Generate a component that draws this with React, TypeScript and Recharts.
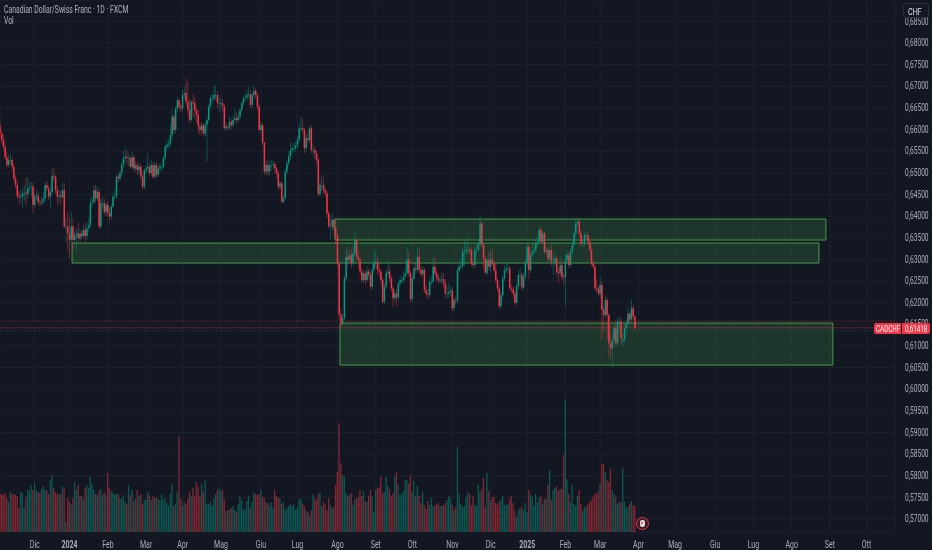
import React from 'react';
import {
  ComposedChart,
  Bar,
  XAxis,
  YAxis,
  CartesianGrid,
  ReferenceArea,
  ReferenceLine,
} from 'recharts';

// prezzi in 1/10000 di CHF
const opens = [
  6610,6591,6576,6560,6536,6518,6530,6530,6514,6487,
  6472,6447,6444,6445,6453,6454,6451,6464,6467,6468,
  6426,6445,6447,6433,6431,6433,6441,6472,6464,6445,
  6456,6493,6491,6460,6445,6447,6444,6460,6376,6376,
  6360,6345,6376,6345,6356,6360,6349,6360,6354,6368,
  6354,6372,6379,6430,6433,6460,6441,6456,6376,6430,
  6430,6410,6426,6407,6399,6422,6445,6445,6491,6487,
  6499,6518,6534,6537,6534,6534,6514,6536,6510,6518,
  6506,6514,6491,6468,6506,6510,6514,6499,6518,6491,
  6518,6495,6510,6514,6514,6534,6560,6565,6568,6587,
  6630,6599,6649,6668,6653,6649,6680,6684,6664,6645,
  6622,6664,6661,6645,6634,6607,6599,6610,6591,6610,
  6622,6653,6672,6672,6680,6680,6661,6661,6661,6654,
  6603,6607,6605,6618,6610,6622,6626,6622,6630,6645,
  6661,6672,6674,6680,6682,6657,6680,6690,6680,6653,
  6599,6610,6570,6503,6518,6503,6518,6518,6520,6510,
  6499,6468,6476,6433,6441,6503,6522,6539,6553,6557,
  6557,6564,6576,6603,6603,6599,6557,6580,6576,6603,
  6553,6553,6545,6531,6451,6472,6472,6460,6453,6406,
  6376,6376,6391,6372,6356,6291,6172,6152,6164,6256,
  6306,6299,6310,6291,6314,6345,6306,6299,6272,6252,
  6268,6252,6272,6264,6237,6276,6295,6295,6276,6272,
  6252,6202,6237,6268,6272,6256,6233,6210,6221,6212,
  6245,6252,6252,6260,6268,6299,6268,6208,6256,6279,
  6276,6306,6276,6266,6276,6229,6221,6218,6249,6249,
  6283,6268,6256,6252,6252,6254,6245,6221,6221,6225,
  6228,6187,6206,6205,6275,6283,6285,6318,6318,6322,
  6323,6322,6291,6287,6322,6322,6337,6383,6333,6302,
  6269,6298,6283,6300,6291,6275,6252,6233,6192,6217,
  6256,6275,6279,6279,6233,6231,6221,6200,6237,6264,
  6264,6235,6260,6291,6329,6275,6310,6318,6322,6337,
  6341,6368,6341,6360,6318,6322,6302,6322,6295,6295,
  6302,6271,6268,6287,6260,6258,6298,6310,6287,6318,
  6333,6360,6383,6387,6360,6337,6337,6356,6356,6341,
  6322,6291,6283,6233,6231,6221,6241,6183,6171,6206,
  6171,6106,6094,6114,6141,6106,6156,6156,6110,6114,
  6141,6152,6175,6161,6187,6168,
];
const highs = [
  6625,6600,6590,6572,6548,6542,6545,6538,6522,6495,
  6480,6458,6460,6465,6472,6488,6490,6480,6480,6478,
  6452,6460,6455,6440,6445,6455,6478,6482,6472,6470,
  6510,6512,6495,6470,6462,6458,6478,6475,6395,6410,
  6395,6410,6395,6365,6372,6385,6372,6368,6380,6385,
  6385,6395,6440,6445,6470,6472,6470,6462,6440,6445,
  6440,6432,6435,6420,6428,6455,6462,6495,6498,6505,
  6525,6550,6560,6552,6545,6540,6548,6542,6526,6525,
  6522,6520,6498,6510,6518,6545,6522,6530,6524,6525,
  6525,6518,6522,6520,6540,6565,6575,6578,6612,6645,
  6635,6652,6675,6672,6660,6692,6700,6718,6712,6672,
  6668,6682,6675,6650,6645,6618,6618,6615,6618,6630,
  6660,6680,6682,6700,6702,6688,6680,6672,6670,6660,
  6615,6612,6630,6625,6632,6648,6640,6640,6650,6665,
  6678,6685,6690,6698,6692,6685,6703,6695,6685,6658,
  6618,6615,6572,6528,6532,6528,6530,6528,6526,6515,
  6505,6482,6480,6448,6510,6530,6550,6570,6565,6570,
  6572,6585,6615,6630,6625,6605,6590,6598,6608,6610,
  6565,6562,6552,6535,6485,6495,6490,6468,6460,6412,
  6395,6408,6395,6375,6360,6295,6185,6175,6262,6325,
  6328,6320,6325,6330,6368,6350,6322,6305,6280,6275,
  6275,6285,6280,6270,6290,6322,6318,6305,6288,6278,
  6258,6245,6275,6298,6285,6262,6240,6230,6232,6250,
  6262,6262,6272,6285,6330,6318,6275,6262,6292,6295,
  6330,6325,6285,6285,6280,6240,6232,6255,6262,6305,
  6305,6278,6265,6262,6270,6268,6255,6240,6245,6238,
  6235,6212,6212,6282,6295,6305,6330,6345,6340,6352,
  6330,6328,6298,6330,6335,6345,6402,6388,6338,6308,
  6305,6318,6322,6325,6296,6290,6258,6240,6225,6262,
  6285,6295,6290,6285,6242,6238,6228,6245,6275,6280,
  6270,6270,6300,6340,6335,6320,6335,6335,6348,6355,
  6378,6375,6365,6365,6332,6328,6330,6335,6308,6320,
  6308,6282,6305,6298,6268,6312,6320,6318,6325,6345,
  6368,6392,6395,6392,6368,6345,6362,6365,6362,6348,
  6330,6298,6288,6255,6238,6258,6250,6190,6215,6212,
  6176,6130,6125,6150,6160,6165,6168,6165,6128,6150,
  6160,6190,6180,6207,6195,6172,
];
const lows = [
  6585,6568,6552,6530,6510,6512,6518,6505,6480,6465,
  6440,6425,6432,6420,6435,6425,6440,6455,6445,6405,
  6420,6438,6425,6422,6425,6428,6435,6458,6438,6418,
  6450,6480,6452,6425,6430,6425,6440,6372,6340,6320,
  6302,6335,6322,6340,6322,6340,6342,6345,6350,6340,
  6345,6365,6372,6420,6428,6430,6435,6370,6370,6418,
  6402,6400,6398,6385,6392,6418,6438,6440,6478,6480,
  6492,6510,6525,6520,6515,6510,6508,6505,6500,6495,
  6496,6485,6462,6462,6498,6500,6490,6492,6485,6486,
  6488,6490,6502,6505,6508,6528,6552,6555,6560,6580,
  6590,6592,6640,6645,6640,6640,6670,6655,6635,6615,
  6618,6630,6625,6615,6590,6585,6590,6582,6585,6526,
  6618,6648,6662,6665,6668,6650,6640,6645,6640,6600,
  6595,6598,6600,6600,6605,6618,6612,6616,6625,6640,
  6655,6665,6668,6672,6650,6650,6672,6672,6645,6595,
  6590,6565,6495,6495,6492,6495,6505,6508,6498,6490,
  6460,6460,6430,6430,6438,6498,6515,6530,6545,6548,
  6550,6558,6570,6595,6590,6545,6550,6565,6570,6545,
  6540,6530,6520,6445,6445,6458,6452,6445,6395,6372,
  6345,6365,6350,6335,6285,6160,6143,6148,6160,6250,
  6285,6292,6280,6285,6308,6298,6280,6262,6245,6245,
  6240,6248,6255,6230,6230,6270,6285,6265,6260,6240,
  6198,6195,6232,6260,6245,6225,6190,6205,6190,6205,
  6238,6245,6245,6255,6262,6260,6200,6202,6250,6268,
  6270,6268,6258,6260,6222,6212,6208,6212,6240,6244,
  6262,6248,6243,6245,6244,6235,6212,6210,6212,6215,
  6180,6180,6195,6198,6268,6275,6278,6285,6310,6312,
  6312,6285,6280,6280,6312,6318,6330,6328,6280,6265,
  6262,6275,6270,6285,6268,6245,6225,6185,6186,6210,
  6250,6268,6268,6228,6222,6212,6192,6196,6230,6240,
  6228,6230,6252,6285,6255,6268,6305,6310,6315,6330,
  6335,6335,6335,6312,6310,6295,6295,6285,6265,6285,
  6262,6245,6260,6252,6240,6192,6290,6280,6282,6312,
  6328,6352,6375,6352,6330,6328,6330,6345,6332,6316,
  6285,6278,6228,6222,6215,6210,6115,6130,6165,6115,
  6075,6070,6052,6105,6098,6100,6130,6105,6100,6108,
  6125,6140,6150,6155,6160,6135,
];
const closes = [
  6591,6576,6560,6536,6518,6530,6530,6514,6487,6472,
  6447,6444,6445,6453,6454,6451,6464,6467,6468,6426,
  6445,6447,6433,6431,6433,6441,6472,6464,6445,6456,
  6493,6491,6460,6445,6447,6444,6460,6376,6376,6360,
  6345,6376,6345,6356,6360,6349,6360,6354,6368,6354,
  6372,6379,6430,6433,6460,6441,6456,6376,6430,6430,
  6410,6426,6407,6399,6422,6445,6445,6491,6487,6499,
  6518,6534,6537,6534,6534,6514,6536,6510,6518,6506,
  6514,6491,6468,6506,6510,6514,6499,6518,6491,6518,
  6495,6510,6514,6514,6534,6560,6565,6568,6587,6630,
  6599,6649,6668,6653,6649,6680,6684,6664,6645,6622,
  6664,6661,6645,6634,6607,6599,6610,6591,6610,6622,
  6653,6672,6672,6680,6680,6661,6661,6661,6654,6603,
  6607,6605,6618,6610,6622,6626,6622,6630,6645,6661,
  6672,6674,6680,6682,6657,6680,6690,6680,6653,6599,
  6610,6570,6503,6518,6503,6518,6518,6520,6510,6499,
  6468,6476,6433,6441,6503,6522,6539,6553,6557,6557,
  6564,6576,6603,6603,6599,6557,6580,6576,6603,6553,
  6553,6545,6531,6451,6472,6472,6460,6453,6406,6376,
  6376,6391,6372,6356,6291,6172,6152,6164,6256,6306,
  6299,6310,6291,6314,6345,6306,6299,6272,6252,6268,
  6252,6272,6264,6237,6276,6295,6295,6276,6272,6252,
  6202,6237,6268,6272,6256,6233,6210,6221,6212,6245,
  6252,6252,6260,6268,6299,6268,6208,6256,6279,6276,
  6306,6276,6266,6276,6229,6221,6218,6249,6249,6283,
  6268,6256,6252,6252,6254,6245,6221,6221,6225,6228,
  6187,6206,6205,6275,6283,6285,6318,6318,6322,6323,
  6322,6291,6287,6322,6322,6337,6383,6333,6302,6269,
  6298,6283,6300,6291,6275,6252,6233,6192,6217,6256,
  6275,6279,6279,6233,6231,6221,6200,6237,6264,6264,
  6235,6260,6291,6329,6275,6310,6318,6322,6337,6341,
  6368,6341,6360,6318,6322,6302,6322,6295,6295,6302,
  6271,6268,6287,6260,6258,6298,6310,6287,6318,6333,
  6360,6383,6387,6360,6337,6337,6356,6356,6341,6322,
  6291,6283,6233,6231,6221,6241,6183,6171,6206,6171,
  6106,6094,6114,6141,6106,6156,6156,6117,6114,6141,
  6152,6175,6161,6187,6168,6141,
];
const volumes = [
  38,38,37,39,34,30,40,38,38,37,
  36,24,40,39,24,35,42,42,47,42,
  49,42,40,39,43,46,42,42,38,52,
  57,44,40,38,38,38,46,44,10,34,
  30,28,34,50,42,47,36,36,33,44,
  47,44,56,48,42,38,37,41,43,37,
  40,37,59,44,41,39,38,38,38,34,
  33,37,30,28,47,37,42,31,34,42,
  36,38,28,32,32,40,37,32,36,34,
  35,33,32,38,32,34,29,26,38,48,
  26,28,40,96,33,26,30,28,33,40,
  36,44,36,50,45,36,48,40,52,28,
  28,30,26,33,38,42,44,41,42,33,
  21,22,22,24,26,22,20,28,36,32,
  22,23,31,36,24,30,40,38,37,38,
  42,35,34,30,29,26,30,24,42,36,
  34,34,28,30,22,24,26,28,26,28,
  22,24,32,34,28,26,22,20,16,22,
  38,34,32,38,40,26,30,28,22,34,
  27,24,25,47,60,109,69,57,56,39,
  36,37,39,27,32,34,34,42,36,41,
  31,30,36,42,36,21,42,44,45,56,
  39,40,55,46,43,36,39,56,60,47,
  37,38,41,52,52,49,57,40,51,36,
  46,36,29,40,27,23,31,27,34,26,
  26,28,29,26,26,27,29,32,36,34,
  27,22,25,85,38,28,25,26,35,40,
  38,27,36,27,26,47,40,43,54,25,
  59,41,32,35,35,29,27,30,32,36,
  27,27,28,33,36,29,21,15,22,24,
  25,22,29,20,42,38,35,26,38,30,
  35,36,28,33,33,47,62,32,42,44,
  46,41,43,43,77,133,53,38,30,47,
  28,26,36,42,28,21,25,25,28,30,
  32,35,38,38,41,48,68,68,60,52,
  50,63,42,38,35,28,30,30,64,30,
  25,25,28,31,27,26,
];

const timeTicks = [20,40,62,84,105,127,150,171,194,216,237,260,282,303,325,345,367,388,411,433,455,477,498];
const timeLabels = ['Dic','2024','Feb','Mar','Apr','Mag','Giu','Lug','Ago','Set','Ott','Nov','Dic','2025','Feb','Mar','Apr','Mag','Giu','Lug','Ago','Set','Ott'];
const priceTicks = [0.57,0.575,0.58,0.585,0.59,0.595,0.6,0.605,0.61,0.615,0.62,0.625,0.63,0.635,0.64,0.645,0.65,0.655,0.66,0.665,0.67,0.675,0.68,0.685];

// zone disegnate a mano sul grafico: [da barra, a barra, prezzo alto, prezzo basso]
const zones = [
  [192.5, 474.7, 0.63933, 0.63447],
  [41.4, 470.7, 0.63378, 0.62916],
  [195.4, 478.7, 0.61529, 0.60558],
];

const UP = '#089981';
const DOWN = '#f23645';
const BG = '#131722';
const AXIS_TEXT = '#a9adb6';

const tableData = closes.map((close, i) => ({
  i,
  open: opens[i] / 10000,
  high: highs[i] / 10000,
  low: lows[i] / 10000,
  close: close / 10000,
  volume: volumes[i],
}));

function Candle(props: any) {
  const { x, y, width, height, payload } = props;
  const { open, close, high, low } = payload;
  const k = height / (high - low);
  const color = close >= open ? UP : DOWN;
  const top = y + (high - Math.max(open, close)) * k;
  const bodyH = Math.max(Math.abs(open - close) * k, 0.7);
  const mid = x + width / 2;
  return (
    <g>
      <rect x={mid - 0.4} y={y} width={0.8} height={height} fill={color} opacity={0.55} />
      <rect x={mid - 0.75} y={top} width={1.5} height={bodyH} fill={color} />
    </g>
  );
}

function VolumeBar(props: any) {
  const { x, y, width, height, payload } = props;
  const color = payload.close >= payload.open ? UP : DOWN;
  return <rect x={x} y={y} width={width} height={height} fill={color} opacity={0.5} />;
}

function PriceTick(props: any) {
  const { y, payload } = props;
  return (
    <text
      transform={`translate(905,${y + 3.2}) scale(0.66,1)`}
      fontFamily="Roboto"
      fontSize={10}
      fill={AXIS_TEXT}
    >
      {payload.value.toFixed(5).replace('.', ',')}
    </text>
  );
}

function TimeTick(props: any) {
  const { x, y, payload } = props;
  const label = timeLabels[timeTicks.indexOf(payload.value)];
  const bold = label === '2024' || label === '2025';
  return (
    <text
      transform={`translate(${x},${y + 8}) scale(0.7,1)`}
      textAnchor="middle"
      fontFamily="Roboto"
      fontSize={10}
      fontWeight={bold ? 700 : 400}
      fill={AXIS_TEXT}
    >
      {label}
    </text>
  );
}

const squeezed: React.CSSProperties = {
  position: 'absolute',
  fontFamily: 'Roboto',
  whiteSpace: 'nowrap',
  transformOrigin: 'left top',
};

export default function App() {
  return (
    <div style={{ position: 'absolute', left: 0, top: 0, width: 932, height: 550, background: BG, overflow: 'hidden' }}>
      <div style={{ position: 'absolute', inset: 0, filter: 'blur(0.3px)' }}>
        <ComposedChart
          width={932}
          height={550}
          data={tableData}
          margin={{ top: 0, right: 0, bottom: 0, left: 0 }}
        >
          <CartesianGrid stroke="#1d212d" />
          <XAxis
            type="number"
            dataKey="i"
            domain={[0, 514.4]}
            ticks={timeTicks}
            interval={0}
            height={18}
            axisLine={false}
            tickLine={false}
            tick={<TimeTick />}
          />
          <XAxis xAxisId="vol" type="number" dataKey="i" domain={[0, 514.4]} hide />
          <YAxis
            orientation="right"
            domain={[0.567, 0.68994]}
            ticks={priceTicks}
            interval={0}
            width={37}
            axisLine={false}
            tickLine={false}
            tick={<PriceTick />}
          />
          <YAxis yAxisId="vol" domain={[0, 532]} hide />
          <Bar
            xAxisId="vol"
            yAxisId="vol"
            dataKey="volume"
            barSize={1.3}
            shape={<VolumeBar />}
            isAnimationActive={false}
          />
          <ReferenceLine y={0.61575} stroke={DOWN} strokeOpacity={0.35} strokeDasharray="2 1" />
          <ReferenceLine y={0.61418} stroke={DOWN} strokeOpacity={0.4} />
          <ReferenceLine y={0.61344} stroke={UP} strokeOpacity={0.35} strokeDasharray="1 2" />
          <Bar
            dataKey={(d: any) => [d.low, d.high]}
            barSize={2}
            shape={<Candle />}
            isAnimationActive={false}
          />
          {zones.map((z, n) => (
            <ReferenceArea
              key={n}
              x1={z[0]}
              x2={z[1]}
              y1={z[2]}
              y2={z[3]}
              fill="#4caf50"
              fillOpacity={0.2}
              stroke="#4caf50"
              strokeOpacity={0.85}
              strokeWidth={1}
            />
          ))}
        </ComposedChart>

        <div style={{ ...squeezed, left: 4, top: 3, fontSize: 10.5, color: '#b2b5be', transform: 'scaleX(0.65)' }}>
          Canadian Dollar/Swiss Franc · 1D · FXCM
        </div>
        <div style={{ ...squeezed, left: 4, top: 14, fontSize: 10.5, color: '#b2b5be', transform: 'scaleX(0.65)' }}>
          Vol
        </div>

        <div
          style={{
            position: 'absolute',
            left: 903,
            top: 3,
            width: 26,
            height: 15,
            background: BG,
            border: '1px solid #2a2e39',
            borderRadius: 3,
            boxSizing: 'border-box',
          }}
        >
          <div style={{ ...squeezed, left: 4, top: 2, fontSize: 9.5, color: '#e0e3eb', transform: 'scaleX(0.75)' }}>CHF</div>
        </div>

        <div style={{ position: 'absolute', left: 874, top: 323, width: 27, height: 11, background: DOWN, borderRadius: '2px 0 0 2px' }}>
          <div style={{ ...squeezed, left: 2, top: 0, fontSize: 9.5, color: '#fff', transform: 'scaleX(0.66)' }}>CADCHF</div>
        </div>
        <div style={{ position: 'absolute', left: 902, top: 323, width: 28, height: 11, background: DOWN, borderRadius: '0 2px 2px 0' }}>
          <div style={{ ...squeezed, left: 3, top: 0, fontSize: 9.5, color: '#fff', transform: 'scaleX(0.66)' }}>0,61418</div>
        </div>

        <div
          style={{
            position: 'absolute',
            left: 636,
            top: 517,
            width: 13,
            height: 13,
            borderRadius: '50%',
            border: '1.5px solid #f23645',
            boxSizing: 'border-box',
            background: '#3a1c28',
          }}
        >
          <div style={{ position: 'absolute', left: 2.5, top: 1.5, width: 5, height: 7, borderRadius: 2, background: '#d8d8dc' }}>
            <div style={{ position: 'absolute', left: 1.5, top: 2.5, width: 2, height: 2, borderRadius: 1, background: DOWN }} />
          </div>
        </div>
      </div>
    </div>
  );
}
